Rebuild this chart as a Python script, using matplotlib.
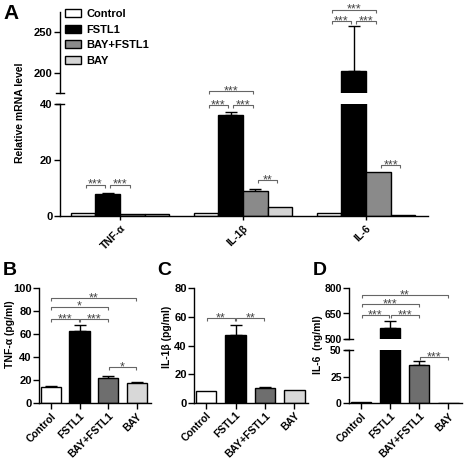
import matplotlib
matplotlib.use("Agg")
import matplotlib.pyplot as plt
from matplotlib.patches import Patch
from matplotlib.lines import Line2D
import numpy as np

plt.rcParams['font.family'] = ['Liberation Sans', 'DejaVu Sans']
plt.rcParams['font.weight'] = 'bold'

W, H = 472, 459

# ---------------- data ----------------
conditions = ['Control', 'FSTL1', 'BAY+FSTL1', 'BAY']
A_genes = ['TNF-α', 'IL-1β', 'IL-6']
A_control = [1.0, 1.0, 0.9]
A_fstl1 = [7.8, 36.0, 203.0]
A_bayfstl1 = [0.6, 9.0, 15.7]
A_bay = [0.7, 3.3, 0.4]
A_fstl1_err = [0.4, 1.3, 55.0]
A_bayfstl1_err = [0.0, 0.6, 0.0]

B_tnf = [14.5, 63.0, 22.0, 18.0]
B_tnf_err = [0.5, 5.0, 2.0, 0.5]
C_il1b = [8.2, 47.5, 10.0, 9.2]
C_il1b_err = [0.0, 6.5, 0.7, 0.0]
D_il6 = [0.8, 562.0, 36.0, 0.5]
D_il6_err = [0.0, 45.0, 3.5, 0.0]

A_colors = ['white', 'black', '#8a8a8a', '#d4d4d4']
BCD_colors = ['white', 'black', '#6e6e6e', '#d8d8d8']

fig = plt.figure(figsize=(W / 100, H / 100), dpi=100)


def px_axes(x0, x1, ytop, ybot):
    ax = fig.add_axes([x0 / W, 1 - ybot / H, (x1 - x0) / W, (ybot - ytop) / H])
    ax.patch.set_visible(False)
    return ax


def style(ax, bottom=True, ysize=8):
    for s in ['top', 'right']:
        ax.spines[s].set_visible(False)
    ax.spines['left'].set_linewidth(1.0)
    ax.spines['bottom'].set_linewidth(1.0)
    if not bottom:
        ax.spines['bottom'].set_visible(False)
    ax.tick_params(axis='both', direction='out', length=4, width=1, pad=1.5)
    ax.tick_params(axis='y', labelsize=ysize)
    for t in ax.get_yticklabels():
        t.set_fontweight('bold')


def units_per_px(ax):
    y0, y1 = ax.get_ylim()
    hpx = ax.get_position().height * H
    return (y1 - y0) / hpx


def bracket(ax, x1, x2, y, text, gap=0.02, tick_px=3, fs=9):
    u = units_per_px(ax)
    h = tick_px * u
    ax.plot([x1 + gap, x1 + gap, x2 - gap, x2 - gap], [y - h, y, y, y - h],
            color='#666666', lw=0.8, clip_on=False, solid_capstyle='butt')
    ax.text((x1 + x2) / 2, y - 3.2 * u, text, ha='center', va='baseline',
            fontsize=fs, color='#444444', fontweight='normal', clip_on=False)


def break_mark(ax, which):
    pos = ax.get_position()
    x = pos.x0
    y = pos.y1 if which == 'top' else pos.y0
    d = 4 / W
    fig.add_artist(Line2D([x - d, x + d], [y, y], color='black', lw=1))


# ---------------- Panel A ----------------
axA_lo = px_axes(60, 428, 104, 216)
axA_hi = px_axes(60, 428, 12, 93)
bw = 0.2
xg = np.arange(len(A_genes))
offs = [-1.5 * bw, -0.5 * bw, 0.5 * bw, 1.5 * bw]
A_vals = [A_control, A_fstl1, A_bayfstl1, A_bay]
A_errs = [None, A_fstl1_err, A_bayfstl1_err, None]
for ax in (axA_lo, axA_hi):
    for i, (vals, col) in enumerate(zip(A_vals, A_colors)):
        ax.bar(xg + offs[i], vals, width=bw, color=col, edgecolor='black',
               linewidth=1.0, zorder=2)
        if A_errs[i] is not None:
            err = np.array(A_errs[i])
            m = err > 0
            ax.errorbar((xg + offs[i])[m], np.array(vals)[m],
                        yerr=[np.zeros(m.sum()), err[m]], fmt='none',
                        ecolor='black', elinewidth=1.0, capsize=4.5,
                        capthick=1.0, zorder=1)
    ax.set_xlim(-0.488, 2.504)
axA_lo.set_ylim(0, 40)
axA_hi.set_ylim(176, 275)
axA_lo.set_yticks([0, 20, 40])
axA_hi.set_yticks([200, 250])
axA_lo.set_xticks(xg)
axA_lo.set_xticklabels(A_genes, rotation=45, ha='right', va='top',
                       rotation_mode='anchor', fontsize=7.5, fontweight='bold')
axA_hi.set_xticks([])
style(axA_lo)
style(axA_hi, bottom=False)
axA_lo.tick_params(axis='x', length=3, pad=2)
break_mark(axA_lo, 'top')
break_mark(axA_hi, 'bottom')

handles = [Patch(facecolor=c, edgecolor='black', linewidth=1.0) for c in A_colors]
axA_hi.legend(handles, conditions, loc='upper left',
              bbox_to_anchor=(65 / W, 1 - 9 / H), bbox_transform=fig.transFigure,
              frameon=False, handlelength=1.45, handleheight=0.7,
              labelspacing=0.5, handletextpad=0.45, borderaxespad=0,
              borderpad=0, prop={'weight': 'bold', 'size': 8})

# A significance
c = xg
bracket(axA_lo, c[0] + offs[0], c[0] + offs[1], 11.2, '***')
bracket(axA_lo, c[0] + offs[1], c[0] + offs[2], 11.2, '***')
bracket(axA_lo, c[1] + offs[0], c[1] + offs[1], 39.6, '***')
bracket(axA_lo, c[1] + offs[1], c[1] + offs[2], 39.6, '***')
bracket(axA_lo, c[1] + offs[0], c[1] + offs[2], 44.7, '***')
bracket(axA_lo, c[1] + offs[2], c[1] + offs[3], 12.9, '**')
bracket(axA_hi, c[2] + offs[0], c[2] + offs[1], 264, '***')
bracket(axA_hi, c[2] + offs[1], c[2] + offs[2], 264, '***')
bracket(axA_hi, c[2] + offs[0], c[2] + offs[2], 278, '***')
bracket(axA_lo, c[2] + offs[2], c[2] + offs[3], 18.2, '***')

fig.text(20 / W, 1 - 113 / H, 'Relative mRNA level', rotation=90,
         ha='center', va='center', fontsize=7.5, fontweight='bold')
fig.text(3 / W, 1 - 4 / H, 'A', fontsize=15, fontweight='bold', ha='left', va='top')

# ---------------- Panels B, C, D ----------------
xb = np.arange(4)
bw2 = 0.7


def draw_bars(ax, vals, errs):
    ax.bar(xb, vals, width=bw2, color=BCD_colors, edgecolor='black',
           linewidth=1.0, zorder=2)
    err = np.array(errs)
    m = err > 0
    ax.errorbar(xb[m], np.array(vals)[m], yerr=[np.zeros(m.sum()), err[m]],
                fmt='none', ecolor='black', elinewidth=1.0, capsize=4,
                capthick=1.0, zorder=1)
    ax.set_xlim(-0.40, 3.47)


def xlabels(ax):
    ax.set_xticks(xb)
    ax.set_xticklabels(conditions, rotation=45, ha='right', va='top',
                       rotation_mode='anchor', fontsize=7.5, fontweight='bold')


# B
axB = px_axes(39.3, 150.5, 288.3, 403.3)
draw_bars(axB, B_tnf, B_tnf_err)
axB.set_ylim(0, 100)
axB.set_yticks([0, 20, 40, 60, 80, 100])
xlabels(axB)
style(axB)
bracket(axB, 0, 1, 73, '***')
bracket(axB, 1, 2, 73, '***')
bracket(axB, 0, 2, 84, '*')
bracket(axB, 0, 3, 91.3, '**')
bracket(axB, 2, 3, 31.3, '*')
fig.text(10.5 / W, 1 - 334 / H, 'TNF-α (pg/ml)', rotation=90, ha='center',
         va='center', fontsize=7.5, fontweight='bold')
fig.text(3 / W, 1 - 262 / H, 'B', fontsize=14, fontweight='bold', ha='left', va='top')

# C
axC = px_axes(194.3, 308.3, 288.3, 402.7)
draw_bars(axC, C_il1b, C_il1b_err)
axC.set_ylim(0, 80)
axC.set_yticks([0, 20, 40, 60, 80])
xlabels(axC)
style(axC)
bracket(axC, 0, 1, 59, '**')
bracket(axC, 1, 2, 59, '**')
fig.text(166.5 / W, 1 - 337 / H, 'IL-1β (pg/ml)', rotation=90, ha='center',
         va='center', fontsize=7.5, fontweight='bold')
fig.text(157 / W, 1 - 262 / H, 'C', fontsize=14, fontweight='bold', ha='left', va='top')

# D
axD_lo = px_axes(349.3, 462, 350, 403.3)
axD_hi = px_axes(349.3, 462, 288.3, 338.7)
for ax in (axD_lo, axD_hi):
    draw_bars(ax, D_il6, D_il6_err)
axD_lo.set_ylim(0, 50)
axD_hi.set_ylim(500, 800)
axD_lo.set_yticks([0, 25, 50])
axD_hi.set_yticks([500, 650, 800])
xlabels(axD_lo)
axD_hi.set_xticks([])
style(axD_lo, ysize=7.5)
style(axD_hi, bottom=False, ysize=7.5)
break_mark(axD_lo, 'top')
break_mark(axD_hi, 'bottom')
bracket(axD_hi, 0, 1, 641, '***')
bracket(axD_hi, 1, 2, 641, '***')
bracket(axD_hi, 0, 2, 706, '***')
bracket(axD_hi, 0, 3, 760, '**')
bracket(axD_lo, 2, 3, 43, '***')
fig.text(318 / W, 1 - 345 / H, 'IL-6  (ng/ml)', rotation=90, ha='center',
         va='center', fontsize=7.5, fontweight='bold')
fig.text(313 / W, 1 - 262 / H, 'D', fontsize=14, fontweight='bold', ha='left', va='top')

fig.savefig('out.png', dpi=100)
